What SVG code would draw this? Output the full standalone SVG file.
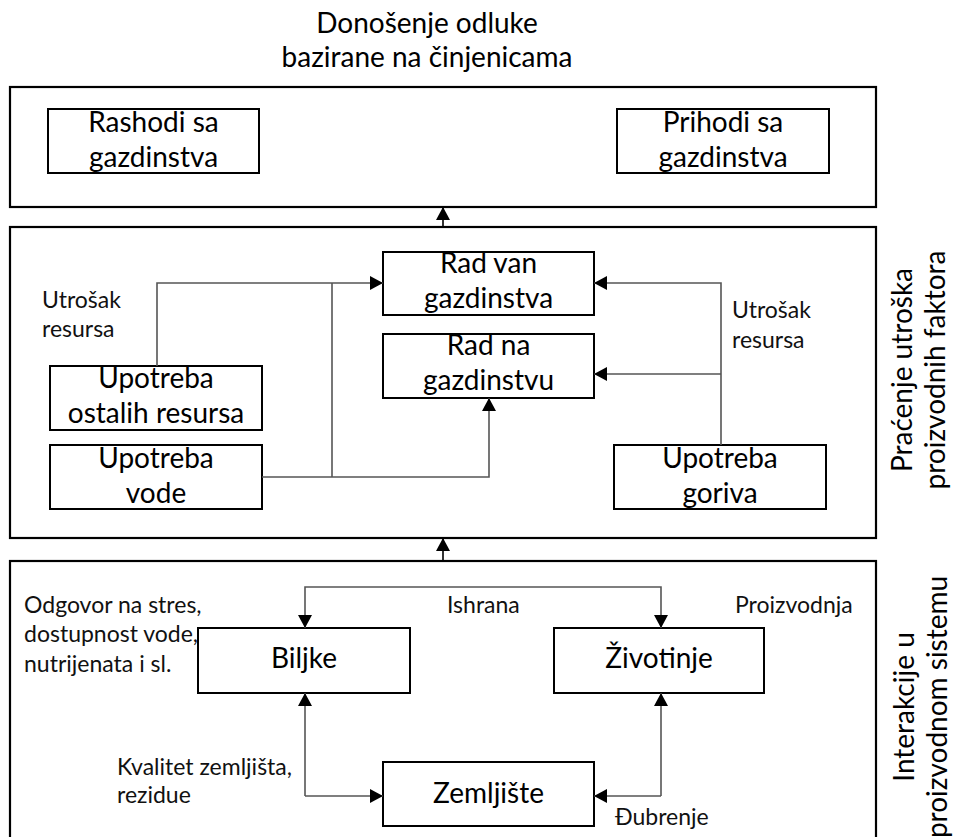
<svg xmlns="http://www.w3.org/2000/svg" width="953" height="837" viewBox="0 0 953 837">
<defs>
<style>
.frame{fill:#fff;stroke:#000;stroke-width:2.2}
.box{fill:#fff;stroke:#000;stroke-width:2}
.t{font-family:Lato,"Open Sans",sans-serif;font-size:28px;fill:#000;text-anchor:middle}
.l{font-family:Lato,"Open Sans",sans-serif;font-size:23px;fill:#111}
.c{fill:none;stroke:#555;stroke-width:1.6}
.c2{fill:none;stroke:#000;stroke-width:1.6}
</style>
<marker id="ah" markerUnits="userSpaceOnUse" markerWidth="14" markerHeight="14" refX="13" refY="7" orient="auto">
<path d="M0,0 L13,7 L0,14 z" fill="#000"/>
</marker>
</defs>
<rect width="953" height="837" fill="#fff"/>

<g id="title">
<text class="t" x="427" y="33">Donošenje odluke</text>
<text class="t" x="427" y="67">bazirane na činjenicama</text>
</g>

<g id="frame-top"><rect class="frame" x="10" y="87" width="866" height="120"/></g>
<g id="frame-mid"><rect class="frame" x="10" y="227" width="866" height="311"/></g>
<g id="frame-bot"><rect class="frame" x="10" y="561" width="866" height="290"/></g>

<g id="rashodi"><rect class="box" x="48" y="109" width="211" height="64"/>
<text class="t" x="153.5" y="132">Rashodi sa</text><text class="t" x="153.5" y="167">gazdinstva</text></g>
<g id="prihodi"><rect class="box" x="617" y="109" width="212" height="64"/>
<text class="t" x="723" y="132">Prihodi sa</text><text class="t" x="723" y="167">gazdinstva</text></g>

<g id="rad-van"><rect class="box" x="383" y="252" width="211" height="63"/>
<text class="t" x="488.5" y="273">Rad van</text><text class="t" x="488.5" y="308">gazdinstva</text></g>
<g id="rad-na"><rect class="box" x="383" y="334" width="211" height="64"/>
<text class="t" x="488.5" y="355">Rad na</text><text class="t" x="488.5" y="390">gazdinstvu</text></g>
<g id="upotreba-ostalih"><rect class="box" x="50" y="366" width="212" height="64"/>
<text class="t" x="156" y="388">Upotreba</text><text class="t" x="156" y="423">ostalih resursa</text></g>
<g id="upotreba-vode"><rect class="box" x="50" y="445" width="212" height="64"/>
<text class="t" x="156" y="468">Upotreba</text><text class="t" x="156" y="503">vode</text></g>
<g id="upotreba-goriva"><rect class="box" x="614" y="445" width="212" height="64"/>
<text class="t" x="720" y="468">Upotreba</text><text class="t" x="720" y="503">goriva</text></g>

<g id="biljke"><rect class="box" x="198" y="628" width="212" height="65"/>
<text class="t" x="304" y="668">Biljke</text></g>
<g id="zivotinje"><rect class="box" x="554" y="628" width="210" height="65"/>
<text class="t" x="659" y="668">Životinje</text></g>
<g id="zemljiste"><rect class="box" x="383" y="762" width="211" height="64"/>
<text class="t" x="488.5" y="803">Zemljište</text></g>

<g id="labels">
<text class="l" x="42" y="308">Utrošak</text>
<text class="l" x="42" y="337">resursa</text>
<text class="l" x="732" y="318">Utrošak</text>
<text class="l" x="732" y="348">resursa</text>
<text class="l" x="24" y="613">Odgovor na stres,</text>
<text class="l" x="24" y="642">dostupnost vode,</text>
<text class="l" x="24" y="672">nutrijenata i sl.</text>
<text class="l" x="447" y="613">Ishrana</text>
<text class="l" x="735" y="613">Proizvodnja</text>
<text class="l" x="117" y="775">Kvalitet zemljišta,</text>
<text class="l" x="117" y="803">rezidue</text>
<text class="l" x="615" y="825">Đubrenje</text>
<text class="t" transform="translate(912,370) rotate(-90)">Praćenje utroška</text>
<text class="t" transform="translate(945,370) rotate(-90)">proizvodnih faktora</text>
<text class="t" transform="translate(914,707) rotate(-90)">Interakcije u</text>
<text class="t" transform="translate(947,707) rotate(-90)">proizvodnom sistemu</text>
</g>

<g id="connectors">
<path class="c2" d="M443,227 V207" marker-end="url(#ah)"/>
<path class="c2" d="M443,561 V538" marker-end="url(#ah)"/>
<path class="c" d="M157,366 V283 H383" marker-end="url(#ah)"/>
<path class="c" d="M332,283 V477"/>
<path class="c" d="M262,477 H489 V398" marker-end="url(#ah)"/>
<path class="c" d="M721,445 V283 H594" marker-end="url(#ah)"/>
<path class="c" d="M721,374 H594" marker-end="url(#ah)"/>
<path class="c" d="M483,587 H305 V628" marker-end="url(#ah)"/>
<path class="c" d="M483,587 H661 V628" marker-end="url(#ah)"/>
<path class="c" d="M305,796 V693" marker-end="url(#ah)"/>
<path class="c" d="M305,796 H383" marker-end="url(#ah)"/>
<path class="c" d="M661,796 V693" marker-end="url(#ah)"/>
<path class="c" d="M661,796 H594" marker-end="url(#ah)"/>
</g>
</svg>
